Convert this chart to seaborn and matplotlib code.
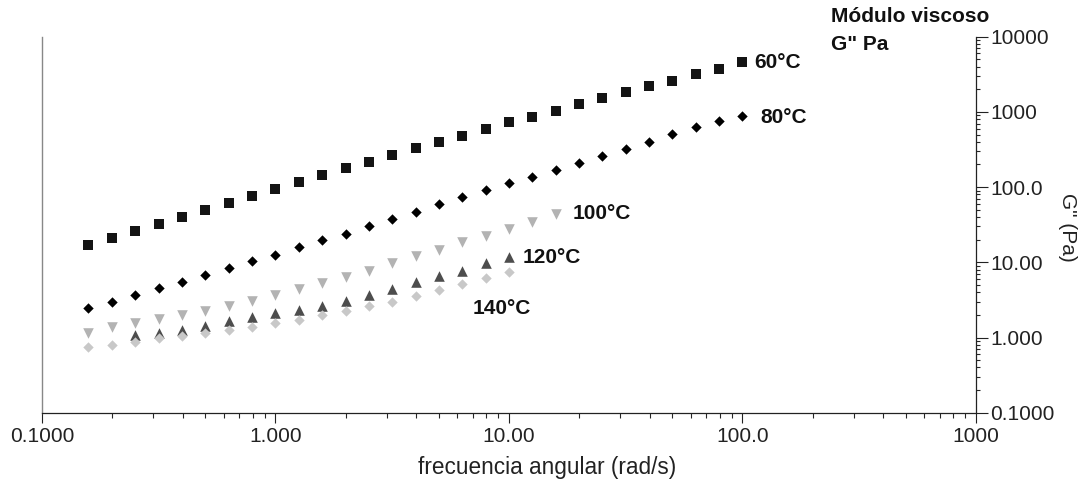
import matplotlib
matplotlib.use("Agg")
import numpy as np
import pandas as pd
import matplotlib.pyplot as plt
import seaborn as sns
from matplotlib.ticker import LogLocator, NullFormatter

# angular frequency (rad/s), 10 points per decade
freq = [0.158, 0.2, 0.251, 0.316, 0.398, 0.501, 0.631, 0.794, 1.0, 1.259,
        1.585, 1.995, 2.512, 3.162, 3.981, 5.012, 6.31, 7.943, 10.0, 12.59,
        15.85, 19.95, 25.12, 31.62, 39.81, 50.12, 63.1, 79.43, 100.0]

# loss modulus G'' (Pa) per temperature
g60 = [17.0, 21.2, 26.3, 32.0, 39.7, 49.6, 62.1, 76.9, 95.2, 117,
       143.5, 179.5, 217.6, 265, 328, 398, 478, 587, 727, 855,
       1037, 1262, 1517, 1840, 2244, 2600, 3192, 3720, 4567]
g80 = [2.49, 2.99, 3.64, 4.55, 5.52, 6.78, 8.32, 10.5, 12.5, 16.1,
       19.8, 24.0, 30.4, 37.7, 47.1, 59.0, 74.5, 91.5, 112, 135,
       169, 207, 259, 324, 404, 504, 624, 764, 882]
g100 = [1.16, 1.39, 1.55, 1.76, 1.99, 2.27, 2.62, 3.08, 3.67, 4.42,
        5.26, 6.44, 7.73, 9.70, 12.2, 14.6, 18.8, 22.4, 27.5, 34.0, 43.9]
g120 = [1.08, 1.16, 1.26, 1.44, 1.66, 1.86, 2.10, 2.32, 2.62, 3.08,
        3.67, 4.42, 5.52, 6.63, 7.78, 9.70, 11.6]
g140 = [0.741, 0.795, 0.879, 0.976, 1.05, 1.14, 1.26, 1.37, 1.55, 1.71,
        1.99, 2.25, 2.62, 2.99, 3.56, 4.28, 5.10, 6.12, 7.36]

series = ["60°C", "80°C", "100°C", "120°C", "140°C"]
values = [g60, g80, g100, g120, g140]
starts = [0, 0, 0, 2, 0]

rows = []
for name, vals, st in zip(series, values, starts):
    for f, g in zip(freq[st:st + len(vals)], vals):
        rows.append({"serie": name, "freq": f, "G": g})
df = pd.DataFrame(rows)

styles = {
    "60°C": dict(marker="s", color="#141414", s=62, off=(12, 0)),
    "80°C": dict(marker="D", color="#000000", s=28, off=(18, -1)),
    "100°C": dict(marker="v", color="#b3b3b3", s=58, off=(17, 0)),
    "120°C": dict(marker="^", color="#4d4d4d", s=58, off=(14, 0)),
    "140°C": dict(marker="D", color="#c8c8c8", s=28, off=(-36, -36)),
}

sns.set_style("white")
plt.rcParams["font.family"] = ["Liberation Sans", "DejaVu Sans"]

fig = plt.figure(figsize=(10.82, 4.8), dpi=100)
ax = fig.add_axes([0.0388, 0.1402, 0.8632, 0.7833])

for name in series:
    st = styles[name]
    sub = df[df["serie"] == name]
    sns.scatterplot(data=sub, x="freq", y="G", marker=st["marker"],
                    color=st["color"], s=st["s"], linewidth=0, ax=ax,
                    zorder=3)
    last = sub.iloc[-1]
    ax.annotate(name, xy=(last["freq"], last["G"]), xytext=st["off"],
                textcoords="offset pixels", ha="left", va="center",
                fontsize=15, fontweight="bold", color="#111111")

ax.set_xscale("log")
ax.set_yscale("log")
ax.set_xlim(0.1, 1000)
ax.set_ylim(0.1, 10000)

ax.set_xticks([0.1, 1, 10, 100, 1000], ["0.1000", "1.000", "10.00", "100.0", "1000"])
ax.set_yticks([0.1, 1, 10, 100, 1000, 10000],
              ["0.1000", "1.000", "10.00", "100.0", "1000", "10000"])
for axis in (ax.xaxis, ax.yaxis):
    axis.set_minor_locator(LogLocator(base=10, subs=range(2, 10)))
    axis.set_minor_formatter(NullFormatter())

ax.yaxis.tick_right()
ax.yaxis.set_label_position("right")

ax.tick_params(axis="x", which="major", direction="out", length=7.2, width=0.8,
               pad=3, labelsize=15, colors="#222222", bottom=True)
ax.tick_params(axis="x", which="minor", direction="out", length=3.6, width=0.8,
               bottom=True)
ax.tick_params(axis="y", which="major", direction="out", length=8.6, width=0.8,
               pad=1.5, labelsize=15, colors="#222222", right=True, left=False)
ax.tick_params(axis="y", which="minor", direction="out", length=3.2, width=0.8,
               right=True, left=False)

for side in ("bottom", "right"):
    ax.spines[side].set_visible(True)
    ax.spines[side].set_color("#222222")
    ax.spines[side].set_linewidth(0.9)
ax.spines["left"].set_color("#888888")
ax.spines["left"].set_linewidth(1.0)
ax.spines["top"].set_visible(False)

ax.set_xlabel("frecuencia angular (rad/s)", fontsize=16.3, color="#222222")
ax.xaxis.set_label_coords(0.541, -0.116)
ax.set_ylabel('G" (Pa)', fontsize=15, rotation=270, color="#222222", va="center")
ax.yaxis.set_label_coords(1.0985, 0.494)

fig.text(830.7 / 1082, 1 - 16.7 / 480, "Módulo viscoso", fontsize=15,
         fontweight="bold", va="center", ha="left", color="#111111")
fig.text(830.7 / 1082, 1 - 45 / 480, 'G" Pa', fontsize=15,
         fontweight="bold", va="center", ha="left", color="#111111")

fig.savefig("out.png", dpi=100, facecolor="white")
